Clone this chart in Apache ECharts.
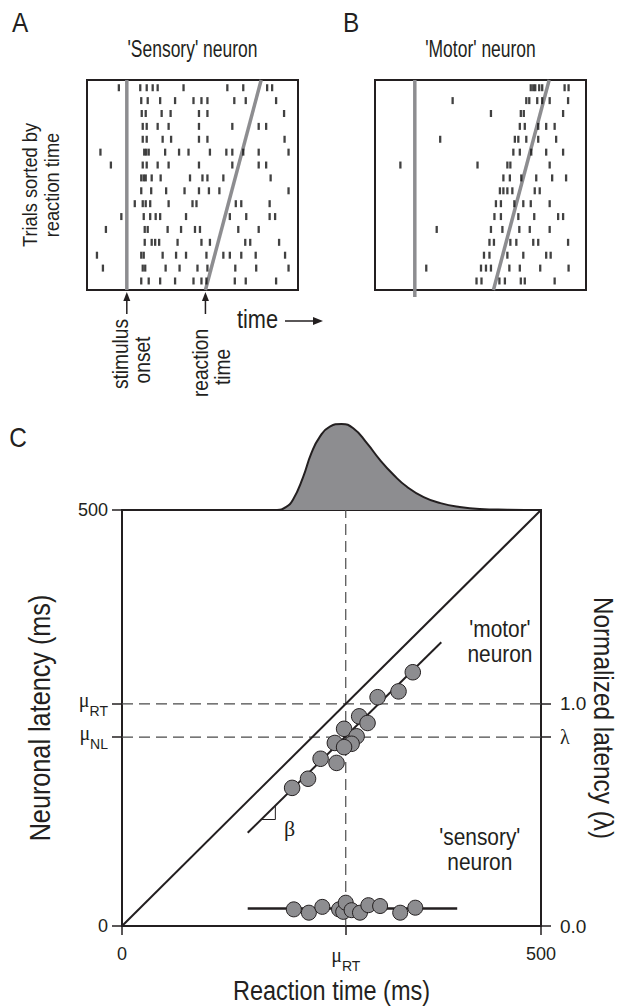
<!DOCTYPE html>
<html><head><meta charset="utf-8">
<script src="https://cdn.jsdelivr.net/npm/echarts@6/dist/echarts.min.js"></script>
<style>html,body{margin:0;padding:0;background:#fff}#c{width:628px;height:1008px}</style>
</head><body><div id="c"></div>
<script>
// ---------- Panel A / B : spike rasters (ms re: stimulus onset); first row = top trial (longest RT)
const sensorySpikes = [
  [-16,27,40,52,62,114,202,234,282,292],
  [29,42,67,97,134,150,162,216,239,300],
  [30,38,70,88,145,162,316],
  [32,40,62,84,145,212,265,280],
  [32,40,72,89,145,162,317],
  [-53,35,39,44,77,105,124,167,200,212,234,265,325],
  [-32,32,40,62,84,145,212,265,280],
  [29,34,38,50,68,127,152,162,194,289],
  [29,49,79,116,145,165,186,325],
  [16,32,38,47,84,132,140,219,230,287],
  [-11,34,47,58,67,119,207,240,287,298],
  [-42,36,42,82,109,137,147,224,265],
  [36,50,57,65,102,150,167,238,248,306],
  [-60,29,34,72,99,119,160,194,207,230,259,318],
  [-48,32,37,78,106,142,162,218,260,325],
  [29,44,67,97,134,150,160,217,239,300]
];
const motorSpikes = [
  [233,238,242,250,256,301,309],
  [76,224,230,246,256,271,308],
  [153,213,219,298],
  [211,221,248,264,281],
  [51,201,208,224,248,284],
  [198,211,234,264,298],
  [-29,126,186,192,271],
  [178,191,214,244,276,304],
  [171,178,186,196,241,251],
  [163,173,200,218,233,271],
  [160,173,208,240,288,298],
  [44,153,176,210,231,271],
  [150,159,192,204,238,248,308],
  [139,150,186,218,264,273],
  [23,133,143,153,190,211,252,309],
  [124,134,170,181,213,221,281]
];
const stimulusOnset = 0;              // ms
const rtShortestLongest = [158, 270]; // ms, bottom and top trial
const rasterTime = [-80, 344];        // ms shown in panels A and B

// ---------- Panel C
const muRT = 267;   // mean reaction time (ms)
const muNL = 227;   // mean neuronal latency (ms)
const motorRT = [347,330,305,283,293,265,280,254,274,265,237,256,222,203];
const motorNL = [305,282,275,252,244,237,228,220,219,215,201,196,177,166];
const sensoryRT = [205,223,239,259,264,267,274,284,294,308,332,350];
const sensoryNL = [20,16,23,20,17,28,19,16,25,24,16,22];
const motorFitRT = [150,381];
const motorFitNL = [112,341];
const sensoryFitRT = [150,400];
const sensoryFitNL = [21,21];
const rtDensX = [0,150,185,195,204,216,226,236,248,262,276,292,308,324,340,360,380,403,427,460,500];
const rtDensY = [0,0,0,0.03,0.12,0.38,0.66,0.85,0.97,1.0,0.95,0.78,0.58,0.41,0.27,0.15,0.08,0.035,0.012,0.004,0];
const axisMax = 500;

// ---------- helpers
const FONT = 'Liberation Sans';
const SERIF = 'Liberation Serif';
const INK = '#231f20';
const GRAY = '#8d8d90';
const NARROW = 0.87;   // the figure's typeface is condensed
const zip = (a,b) => a.map((v,i)=>[v,b[i]]);
function rasterPoints(spikes){
  const pts = [];
  spikes.forEach((row,i)=>{ const trial = spikes.length - i; row.forEach(t=>pts.push([t,trial])); });
  return pts;
}
const rY = [0.3, 16.6];
const lambda = muNL/muRT;

const chart = echarts.init(document.getElementById('c'), null, {renderer:'svg', width:628, height:1008});

const tickStyle = {color: INK, width: 1.5};
const muRich = {
  mu: {fontFamily: SERIF, fontSize: 20, color: INK, lineHeight: 16, verticalAlign: 'top'},
  sub: {fontFamily: FONT, fontSize: 14, color: INK, lineHeight: 28, verticalAlign: 'bottom'},
  lam: {fontFamily: SERIF, fontSize: 20, color: INK}
};

const rasterSeries = (idx, spikes, stimBottom) => ([
  {type:'line', xAxisIndex:idx, yAxisIndex:idx, data:[[stimulusOnset,stimBottom],[stimulusOnset,rY[1]]],
   symbol:'none', clip:false, lineStyle:{color:GRAY, width:3.5}, z:2},
  {type:'line', xAxisIndex:idx, yAxisIndex:idx, data:[[rtShortestLongest[0],rY[0]],[rtShortestLongest[1],rY[1]]],
   symbol:'none', lineStyle:{color:GRAY, width:3.5}, z:2},
  {type:'scatter', xAxisIndex:idx, yAxisIndex:idx, data: rasterPoints(spikes), symbol:'rect',
   symbolSize:[2.3,7], itemStyle:{color:'#111'}, z:3}
]);

const dashed = {color:'#4a4a4a', width:1.2, type:[11,6]};

const option = {
  animation:false,
  backgroundColor:'#fff',
  textStyle:{fontFamily:FONT, color:INK},
  grid:[
    {left:87, top:80, width:211, height:210, show:true, borderColor:INK, borderWidth:2},
    {left:375, top:80, width:211, height:210, show:true, borderColor:INK, borderWidth:2},
    {left:122, top:510, width:419, height:416, show:true, borderColor:INK, borderWidth:2},
    {left:122, top:424, width:419, height:86}
  ],
  xAxis:[
    {gridIndex:0, type:'value', min:rasterTime[0], max:rasterTime[1], show:false},
    {gridIndex:1, type:'value', min:rasterTime[0], max:rasterTime[1], show:false},
    {gridIndex:2, type:'value', min:0, max:axisMax, splitLine:{show:false},
     axisLine:{show:true, lineStyle:{color:INK, width:2}},
     axisTick:{show:true, customValues:[0,muRT,axisMax], length:9, lineStyle:tickStyle},
     axisLabel:{show:true, customValues:[0,muRT,axisMax], margin:19, fontSize:18, color:INK, fontFamily:FONT,
       formatter:v => v===muRT ? '{mu|μ}{sub|RT}' : String(v), rich:muRich}},
    {gridIndex:3, type:'value', min:0, max:axisMax, show:false}
  ],
  yAxis:[
    {gridIndex:0, type:'value', min:rY[0], max:rY[1], show:false},
    {gridIndex:1, type:'value', min:rY[0], max:rY[1], show:false},
    {gridIndex:2, type:'value', min:0, max:axisMax, position:'left', splitLine:{show:false},
     axisLine:{show:true, lineStyle:{color:INK, width:2}},
     axisTick:{show:true, customValues:[0,muNL,muRT,axisMax], length:10, lineStyle:tickStyle},
     axisLabel:{show:true, customValues:[0,muNL,muRT,axisMax], margin:14, fontSize:18, color:INK, fontFamily:FONT,
       formatter:v => v===muRT ? '{mu|μ}{sub|RT}' : v===muNL ? '{mu|μ}{sub|NL}' : String(v), rich:muRich}},
    {gridIndex:2, type:'value', min:0, max:axisMax/muRT, position:'right', splitLine:{show:false},
     axisLine:{show:true, lineStyle:{color:INK, width:2}},
     axisTick:{show:true, customValues:[0,lambda,1], length:10, lineStyle:tickStyle},
     axisLabel:{show:true, customValues:[0,lambda,1], margin:19, fontSize:19, color:INK, fontFamily:FONT,
       formatter:v => v===0 ? '0.0' : v===1 ? '1.0' : '{lam|λ}', rich:muRich}},
    {gridIndex:3, type:'value', min:0, max:1, show:false}
  ],
  series:[
    ...rasterSeries(0, sensorySpikes, rY[0]),
    ...rasterSeries(1, motorSpikes, -0.25),
    {type:'line', xAxisIndex:3, yAxisIndex:4, data:zip(rtDensX, rtDensY), smooth:0.5,
     symbol:'none', lineStyle:{color:INK, width:2}, areaStyle:{color:GRAY, opacity:1}, z:2},
    {type:'line', xAxisIndex:2, yAxisIndex:2, data:[[muRT,0],[muRT,axisMax]], symbol:'none', lineStyle:dashed, z:1},
    {type:'line', xAxisIndex:2, yAxisIndex:2, data:[[0,muRT],[axisMax,muRT]], symbol:'none', lineStyle:dashed, z:1},
    {type:'line', xAxisIndex:2, yAxisIndex:2, data:[[0,muNL],[axisMax,muNL]], symbol:'none', lineStyle:dashed, z:1},
    {type:'line', xAxisIndex:2, yAxisIndex:2, data:[[0,0],[axisMax,axisMax]], symbol:'none', lineStyle:{color:INK, width:2}, z:2},
    {type:'line', xAxisIndex:2, yAxisIndex:2, data:zip(motorFitRT, motorFitNL), symbol:'none', lineStyle:{color:INK, width:2}, z:2},
    {type:'line', xAxisIndex:2, yAxisIndex:2, data:[[166,128],[183,128],[183,145]], symbol:'none', lineStyle:{color:INK, width:1}, z:2},
    {type:'line', xAxisIndex:2, yAxisIndex:2, data:zip(sensoryFitRT, sensoryFitNL), symbol:'none', lineStyle:{color:INK, width:2.5}, z:2},
    {type:'scatter', xAxisIndex:2, yAxisIndex:2, data:zip(motorRT, motorNL), symbolSize:15.5,
     itemStyle:{color:GRAY, borderColor:INK, borderWidth:1, opacity:1}, z:4},
    {type:'scatter', xAxisIndex:2, yAxisIndex:2, data:zip(sensoryRT, sensoryNL), symbolSize:15,
     itemStyle:{color:GRAY, borderColor:INK, borderWidth:1, opacity:1}, z:4}
  ]
};
chart.setOption(option);

// ---------- annotations placed from the axes
const pA0 = chart.convertToPixel({gridIndex:0}, [stimulusOnset, rY[0]]);
const pA1 = chart.convertToPixel({gridIndex:0}, [rtShortestLongest[0], rY[0]]);
const gA = chart.convertToPixel({gridIndex:0}, [(rasterTime[0]+rasterTime[1])/2, rY[1]]);
const gB = chart.convertToPixel({gridIndex:1}, [(rasterTime[0]+rasterTime[1])/2, rY[1]]);
const cC = chart.convertToPixel({gridIndex:2}, [axisMax/2, axisMax/2]);
const pBeta = chart.convertToPixel({gridIndex:2}, [200, 117]);
const pMotor = chart.convertToPixel({gridIndex:2}, [451, 343]);
const pSens = chart.convertToPixel({gridIndex:2}, [427, 92]);

function upArrow(x, yTop, yBot){
  return [
    {type:'line', shape:{x1:x, y1:yTop+6, x2:x, y2:yBot}, style:{stroke:INK, lineWidth:1.5}},
    {type:'polygon', shape:{points:[[x,yTop],[x-3.5,yTop+9],[x+3.5,yTop+9]]}, style:{fill:INK}}
  ];
}
function txt(x, y, text, st, rotation, sx){
  const el = {type:'text', x:x, y:y, scaleX:(sx===undefined ? NARROW : sx),
    style:Object.assign({text:text, fontFamily:FONT, fill:INK, fontSize:18,
    textAlign:'center', textVerticalAlign:'middle'}, st||{})};
  if (rotation) el.rotation = rotation;
  return el;
}

const graphics = [
  txt(20, 22, 'A', {fontSize:28}),
  txt(351, 22, 'B', {fontSize:28}),
  txt(gA[0], 49, "'Sensory' neuron", {fontSize:23}, 0, 0.76),
  txt(gB[0], 49, "'Motor' neuron", {fontSize:23}, 0, 0.76),
  txt(30, 185, 'Trials sorted by', {fontSize:21}, Math.PI/2),
  txt(52, 185, 'reaction time', {fontSize:21}, Math.PI/2),
  ...upArrow(pA0[0], pA0[1]+2, pA0[1]+24),
  ...upArrow(pA1[0], pA1[1]+2, pA1[1]+24),
  txt(pA0[0]-7, 354, 'stimulus', {fontSize:22}, Math.PI/2),
  txt(pA0[0]+15, 360, 'onset', {fontSize:22}, Math.PI/2),
  txt(pA1[0]-5, 363, 'reaction', {fontSize:22}, Math.PI/2),
  txt(pA1[0]+17, 367, 'time', {fontSize:22}, Math.PI/2),
  txt(237, 319, 'time', {fontSize:25, textAlign:'left'}),
  {type:'line', shape:{x1:285, y1:321, x2:314, y2:321}, style:{stroke:INK, lineWidth:1.5}},
  {type:'polygon', shape:{points:[[323,321],[313,317],[313,325]]}, style:{fill:INK}},
  txt(18, 437, 'C', {fontSize:28}),
  txt(pBeta[0], pBeta[1], 'β', {fontFamily:SERIF, fontSize:22}, 0, 1),
  txt(pMotor[0], pMotor[1]-12, "'motor'", {fontSize:24}),
  txt(pMotor[0], pMotor[1]+13, 'neuron', {fontSize:24}),
  txt(pSens[0], pSens[1]-12, "'sensory'", {fontSize:24}),
  txt(pSens[0], pSens[1]+13, 'neuron', {fontSize:24}),
  // axis titles
  txt(40, cC[1], 'Neuronal latency (ms)', {fontSize:29}, Math.PI/2),
  txt(604, cC[1], 'Normalized latency (λ)', {fontSize:28}, -Math.PI/2),
  txt(cC[0], 990, 'Reaction time (ms)', {fontSize:27})
];
chart.setOption({graphic: graphics});
</script></body></html>
